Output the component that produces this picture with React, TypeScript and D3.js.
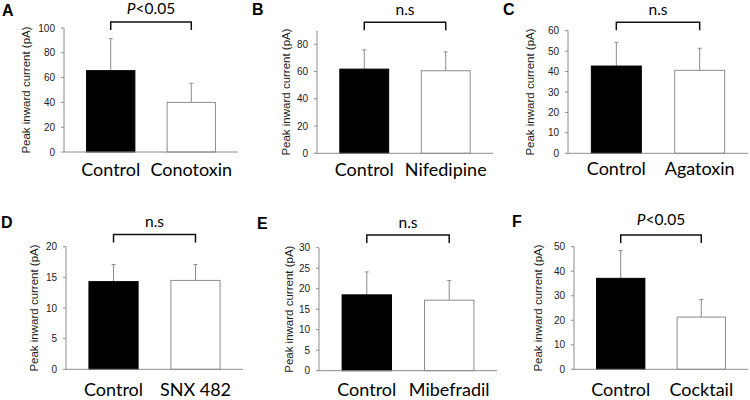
import React from "react";
import * as d3 from "d3";

// ---- data ----
const panelLetters = ["A", "B", "C", "D", "E", "F"];
const controlLabel = "Control";
const treatments = ["Conotoxin", "Nifedipine", "Agatoxin", "SNX 482", "Mibefradil", "Cocktail"];
const controlMeans = [65.6, 61.8, 42.7, 14.3, 18.5, 37.1];
const controlErrors = [25.8, 14.1, 11.6, 2.8, 5.6, 11.3];
const treatmentMeans = [40.0, 60.6, 40.6, 14.5, 17.2, 21.3];
const treatmentErrors = [15.4, 13.8, 10.8, 2.6, 4.8, 7.2];
const yMaxes = [100, 90, 60, 20, 30, 50];
const yTickSteps = [20, 20, 10, 5, 5, 10];
const yTickMaxes = [100, 80, 60, 20, 30, 50];
const annotations = ["P<0.05", "n.s", "n.s", "n.s", "n.s", "P<0.05"];
const yTitle = "Peak inward current (pA)";

// ---- layout ----
const layouts = [
  { x0: 64, x1: 238, yTop: 28, yZero: 152, letterX: 2, letterY: 16, annY: 13.5, brY: 22, titleX: 26, catY: 176 },
  { x0: 317, x1: 493, yTop: 30.7, yZero: 153.3, letterX: 252, letterY: 15, annY: 15, brY: 22.3, titleX: 286, catY: 176 },
  { x0: 568, x1: 748, yTop: 30.7, yZero: 153.3, letterX: 503, letterY: 15, annY: 15, brY: 22.3, titleX: 530, catY: 175 },
  { x0: 66, x1: 243, yTop: 246.7, yZero: 369.3, letterX: 1, letterY: 228, annY: 227, brY: 234.5, titleX: 34, catY: 396 },
  { x0: 319, x1: 497, yTop: 247.7, yZero: 370.7, letterX: 257, letterY: 229, annY: 228, brY: 235, titleX: 289, catY: 396 },
  { x0: 574, x1: 748, yTop: 246.7, yZero: 369.3, letterX: 512, letterY: 227, annY: 225, brY: 235, titleX: 538, catY: 396 },
];

const AXIS = "#8c8c8c";
const TEXT = "#222";
const catFont = "Lato, 'Open Sans', sans-serif";
const arial = "'Liberation Sans', Arial, sans-serif";

function Panel({ i }: { i: number }) {
  const L = layouts[i];
  const cats = [controlLabel, treatments[i]];
  const means = [controlMeans[i], treatmentMeans[i]];
  const errs = [controlErrors[i], treatmentErrors[i]];
  const x = d3.scaleBand<string>().domain(cats).range([L.x0, L.x1]).paddingInner(0.4).paddingOuter(0.28);
  const y = d3.scaleLinear().domain([0, yMaxes[i]]).range([L.yZero, L.yTop]);
  const ticks = d3.range(0, yTickMaxes[i] + 0.001, yTickSteps[i]);
  const bw = x.bandwidth();
  const cx = cats.map((c) => (x(c) as number) + bw / 2);
  const ann = annotations[i];
  const isP = ann.startsWith("P");
  return (
    <g>
      <text x={L.letterX} y={L.letterY} fontFamily={arial} fontWeight="bold" fontSize={16} fill="#000">
        {panelLetters[i]}
      </text>
      {/* y axis */}
      <line x1={L.x0} x2={L.x0} y1={y(yMaxes[i])} y2={L.yZero} stroke={AXIS} strokeWidth={1} />
      {ticks.map((t) => (
        <g key={t}>
          <line x1={L.x0 - 3} x2={L.x0} y1={y(t)} y2={y(t)} stroke={AXIS} strokeWidth={1} />
          <text x={L.x0 - 9} y={y(t)} dy="0.35em" textAnchor="end" fontFamily={arial} fontSize={10} fill={TEXT}>
            {t}
          </text>
        </g>
      ))}
      <text
        transform={`translate(${L.titleX},${(L.yTop + L.yZero) / 2}) rotate(-90)`}
        textAnchor="middle"
        dy="0.35em"
        fontFamily={arial}
        fontSize={11.5}
        fill={TEXT}
      >
        {yTitle}
      </text>
      {/* error bars */}
      {cats.map((c, k) => (
        <g key={"e" + c}>
          <line x1={cx[k]} x2={cx[k]} y1={y(means[k])} y2={y(means[k] + errs[k])} stroke={AXIS} strokeWidth={1} />
          <line x1={cx[k] - 2} x2={cx[k] + 2} y1={y(means[k] + errs[k])} y2={y(means[k] + errs[k])} stroke={AXIS} strokeWidth={1} />
        </g>
      ))}
      {/* bars */}
      {cats.map((c, k) => (
        <rect
          key={"b" + c}
          x={x(c)}
          y={y(means[k])}
          width={bw}
          height={L.yZero - y(means[k])}
          fill={k === 0 ? "#000" : "#fff"}
          stroke={k === 0 ? "#000" : AXIS}
          strokeWidth={1}
        />
      ))}
      {/* x axis */}
      <line x1={L.x0} x2={L.x1} y1={L.yZero} y2={L.yZero} stroke={AXIS} strokeWidth={1} />
      {cats.map((c, k) => (
        <text key={"c" + c} x={cx[k]} y={L.catY} textAnchor="middle" fontFamily={catFont} fontSize={18} fill="#000">
          {c}
        </text>
      ))}
      {/* bracket */}
      <path
        d={`M${cx[0]},${L.brY + 8}V${L.brY}H${cx[1]}V${L.brY + 8}`}
        fill="none"
        stroke="#111"
        strokeWidth={1.5}
      />
      <text x={(cx[0] + cx[1]) / 2} y={L.annY} textAnchor="middle" fontFamily={catFont} fontSize={15.5} fill="#000">
        {isP ? (
          <>
            <tspan fontStyle="italic">P</tspan>
            {ann.slice(1)}
          </>
        ) : (
          ann
        )}
      </text>
    </g>
  );
}

export default function App() {
  return (
    <svg width={750} height={400} style={{ position: "absolute", left: 0, top: 0, background: "#fff" }}>
      {panelLetters.map((_, i) => (
        <Panel key={i} i={i} />
      ))}
    </svg>
  );
}
